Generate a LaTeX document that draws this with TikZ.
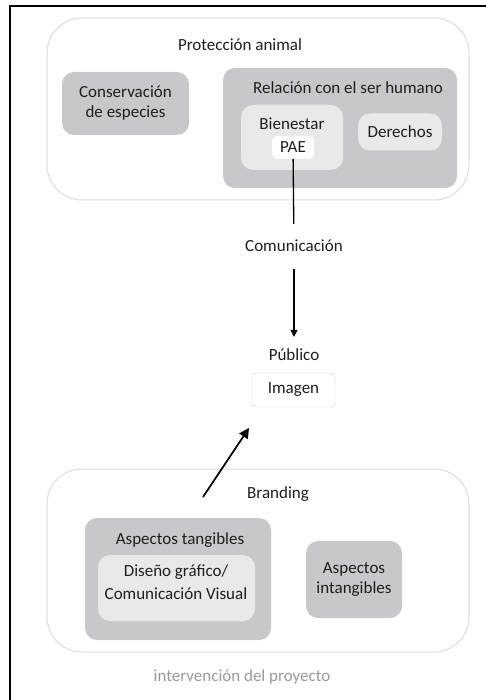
\documentclass[tikz,border=0pt]{standalone}
\usepackage{fontspec}
\setmainfont{Carlito}
\usetikzlibrary{arrows.meta}

\definecolor{boxgray}{HTML}{C8C8CA}
\definecolor{boxlight}{HTML}{E9E9E9}
\definecolor{rimgray}{HTML}{DCDCDC}
\definecolor{edgegray}{HTML}{CFCFCF}
\definecolor{inkgray}{HTML}{1E1E1E}
\definecolor{notegray}{HTML}{9A9A9A}

\tikzset{
  area/.style={draw=rimgray, line width=1pt, fill=white, rounded corners=35pt},
  block/.style={fill=boxgray, rounded corners=12pt, inner sep=0pt},
  soft/.style={fill=boxlight, rounded corners=12pt, inner sep=0pt},
  tag/.style={fill=white, rounded corners=5pt, inner sep=0pt},
  caption/.style={inner sep=0pt, align=center}
}

\begin{document}
\begin{tikzpicture}[x=1pt, y=-1pt,
    font=\fontsize{17}{20}\selectfont, text=inkgray,
    >={Triangle[length=7pt, width=7pt]}]
  \useasboundingbox (0,0) rectangle (485,700);
  \draw[line width=2pt] (10,710) -- (10,6) -- (495,6);

  % proteccion animal
  \node[area, minimum width=422pt, minimum height=182pt] (prot) at (258,109) {};
  \node[caption] (protname) at (240,45) {Protección animal};
  \node[block, minimum width=127pt, minimum height=63pt, align=center]
    (cons) at (125.5,103.5) {Conservación\\de especies};
  \node[block, minimum width=234pt, minimum height=120pt] (rel) at (340,128) {};
  \node[caption] (relname) at (348,88) {Relación con el ser humano};
  \node[soft, minimum width=102pt, minimum height=65pt] (bien) at (292,137.5) {};
  \node[caption] (bienname) at (292,124) {Bienestar};
  \node[tag, minimum width=42pt, minimum height=23pt] (pae) at (293,147.5) {PAE};
  \node[soft, minimum width=84pt, minimum height=37pt] (der) at (400,132) {Derechos};

  % comunicacion y publico
  \node[caption, minimum height=44pt] (comm) at (294,246) {Comunicación};
  \node[caption] (pub) at (294,355) {Público};
  \node[draw=edgegray, fill=white, rounded corners=4pt,
        minimum width=83pt, minimum height=34pt] (img) at (293.5,390) {Imagen};
  \draw[line width=1.3pt] (pae) -- (comm);
  \draw[->, line width=1.3pt, shorten <=1pt, shorten >=12pt] (comm) -- (pub);

  % branding
  \node[area, minimum width=422pt, minimum height=183pt] (brand) at (258,560.5) {};
  \node[caption] (brandname) at (278,494) {Branding};
  \node[block, minimum width=186pt, minimum height=122pt] (tang) at (178,579) {};
  \node[caption] (tangname) at (180,540) {Aspectos tangibles};
  \node[soft, minimum width=157pt, minimum height=66pt] (dis) at (176.5,588) {};
  \node[caption, align=center] (disname) at (176,582)
    {Diseño gráfico/\\[3pt]Comunicación Visual};
  \node[block, minimum width=96pt, minimum height=77pt, align=center]
    (intang) at (354,579.5) {Aspectos\\intangibles};

  \coordinate (brandfoot) at (203,497);
  \coordinate (imgfoot) at (249,428);
  \draw[-{Triangle[length=10pt, width=10pt]}, line width=1.7pt]
    (brandfoot) -- (imgfoot);

  \node[caption, text=notegray] (proy) at (242,677) {intervención del proyecto};
\end{tikzpicture}
\end{document}
